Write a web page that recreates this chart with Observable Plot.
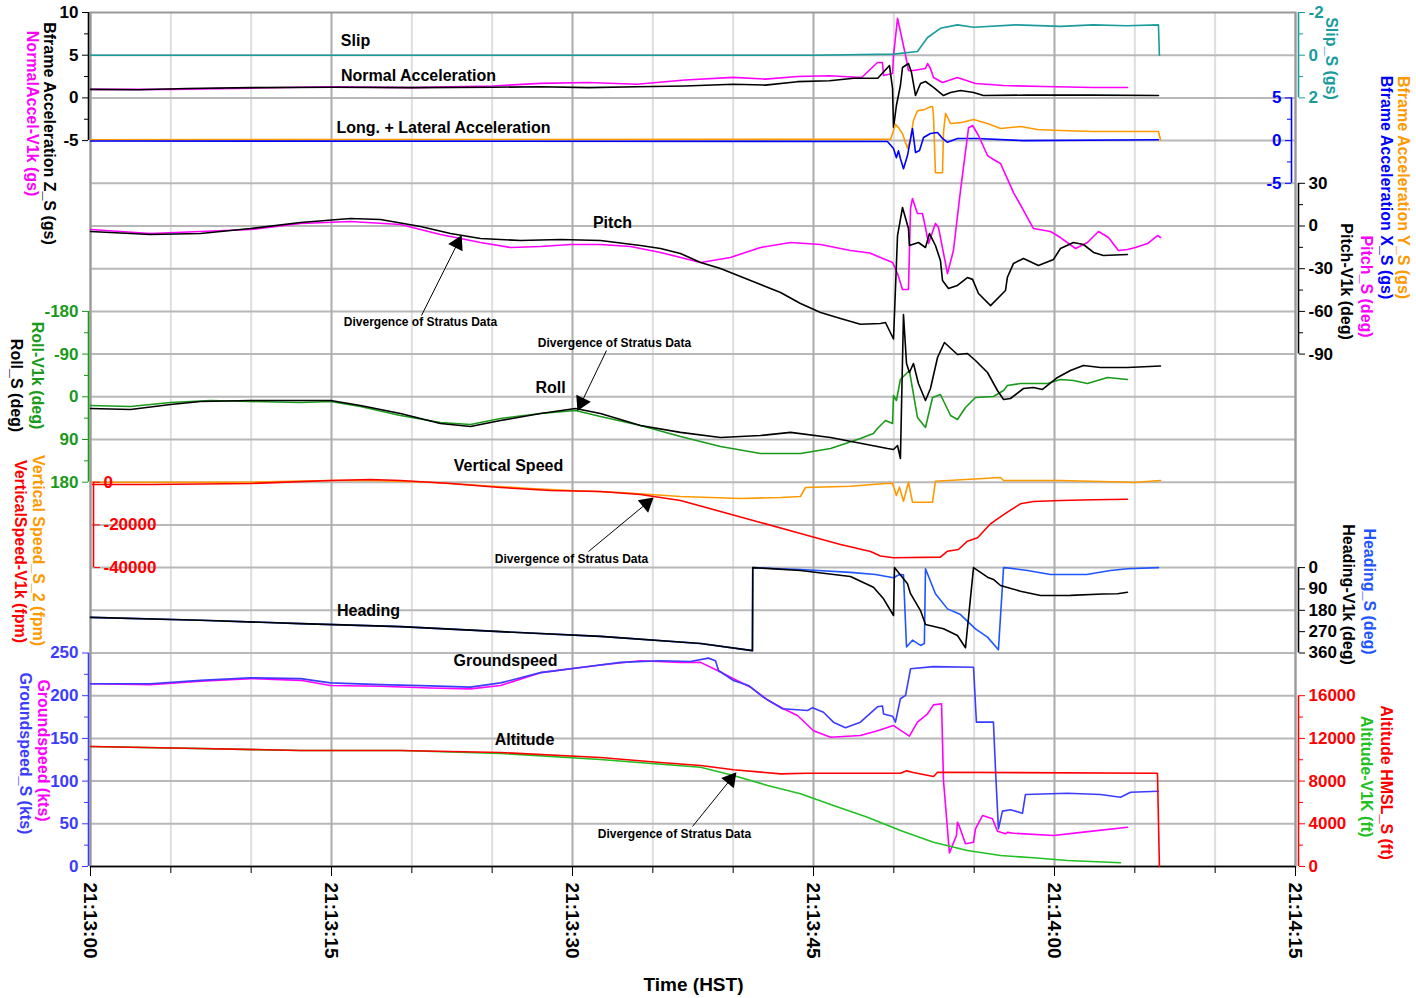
<!DOCTYPE html>
<html><head><meta charset="utf-8">
<script src="https://cdn.jsdelivr.net/npm/d3@7"></script>
<script src="https://cdn.jsdelivr.net/npm/@observablehq/plot@0.6"></script>
<style>
body{margin:0;background:#fff;}
#chart{position:relative;width:1416px;height:998px;}
#chart svg{position:absolute;left:0;top:0;overflow:visible;}
</style></head><body><div id="chart"></div>
<script>
// ---------- x axis ----------
const xMajor = [0, 15, 30, 45, 60, 75];
const xMajorLabels = ["21:13:00", "21:13:15", "21:13:30", "21:13:45", "21:14:00", "21:14:15"];
const xMinor = [5, 10, 20, 25, 35, 40, 50, 55, 65, 70];
const gridRows = d3.range(1, 20);

// ---------- series: [seconds after 21:13:00, value] ----------
const slipS = [[0,0],[20,0],[45,0],[49.98,-0.05],[51.47,-0.17],[52.1,-0.83],[52.9,-1.26],[53.96,-1.42],[54.96,-1.31],[57.6,-1.42],[60.4,-1.35],[62.4,-1.42],[64.5,-1.38],[66.47,-1.42],[66.53,0]];
const accelZS = [[0,1.0],[3,0.95],[6,1.1],[10,1.2],[15,1.25],[20,1.2],[25,1.25],[28,1.3],[31,1.2],[34,1.3],[37,1.4],[40,1.6],[42,1.5],[44,1.9],[46,2.0],[47.5,2.3],[49,2.3],[49.73,3.79],[49.92,1.1],[49.98,-3.47],[50.16,-0.89],[50.41,1.45],[50.54,3.56],[50.91,4.03],[51.1,2.97],[51.35,0.28],[51.66,1.69],[51.97,1.92],[52.47,1.22],[53.09,0.28],[53.53,0.63],[54.15,0.87],[54.96,0.63],[55.58,0.28],[58.3,0.33],[62.4,0.33],[66.47,0.28]];
const normalAccelV1k = [[0,1.0],[5,1.0],[10,1.15],[15,1.3],[20,1.2],[25,1.4],[28,1.7],[31,1.8],[34,1.6],[37,2.1],[40,2.4],[42,2.2],[44,2.5],[46,2.6],[48,2.39],[48.98,4.15],[49.29,4.15],[49.36,2.62],[49.92,2.86],[49.98,4.96],[50.23,9.33],[50.73,4.96],[50.91,3.21],[51.22,3.21],[51.97,3.44],[52.1,4.03],[52.28,3.44],[52.47,2.39],[53.03,1.8],[53.96,2.39],[55.08,1.69],[56.83,1.45],[59.31,1.33],[62.43,1.22],[64.54,1.22]];
const accelYS = [[0,0.1],[49.8,0.15],[50.1,1.9],[50.29,1.52],[50.54,0.8],[50.85,-0.9],[51.04,0.25],[51.22,2.35],[51.47,3.5],[51.85,3.6],[52.28,3.97],[52.41,3.97],[52.47,2.9],[52.59,-3.76],[53.03,-3.76],[53.09,0.95],[53.22,3.2],[53.53,2.0],[54.15,2.1],[54.96,2.47],[55.83,2.0],[56.64,1.42],[57.88,1.65],[58.94,1.3],[60.37,1.18],[62.4,1.07],[66.47,1.07],[66.6,0.1]];
const accelXS = [[0,-0.05],[49.6,-0.1],[49.98,-0.93],[50.16,-2.0],[50.29,-1.2],[50.41,-2.1],[50.6,-3.3],[50.85,-1.75],[51.16,1.42],[51.35,-1.4],[51.6,-1.16],[51.85,0.36],[52.28,0.83],[52.72,0.95],[53.03,0.25],[53.34,-0.2],[53.96,0.25],[55.21,0.25],[58,0],[66.47,0.1]];
const pitchV1k = [[0,-3.9],[3.73,-6.0],[6.85,-5.3],[9.96,-1.8],[13.07,2.5],[16.18,5.3],[18.05,4.6],[20.54,-0.4],[22.41,-5.3],[24.27,-8.8],[26.76,-10.2],[29.25,-9.5],[31.74,-10.2],[34.23,-13.7],[35.48,-15.8],[36.72,-19.3],[37.97,-25.6],[39.21,-29.9],[41.08,-38.3],[42.95,-46.7],[44.19,-54.5],[45.44,-60.8],[46.68,-65],[47.92,-69],[49.17,-68.5],[49.48,-67.8],[49.98,-79.4],[50.23,-6.7],[50.54,13],[50.91,-1.8],[50.97,-13.7],[51.53,-11.6],[51.97,-15.1],[52.22,-5.3],[52.59,-13.7],[52.9,-24.2],[53.03,-38.3],[53.4,-43.9],[53.96,-41.8],[54.58,-36.2],[54.9,-37.5],[55.27,-47.4],[56.02,-55.9],[56.95,-45.3],[57.07,-36],[57.45,-26.3],[58.07,-22.8],[59.0,-27.8],[59.94,-23.5],[60.37,-15.8],[61.18,-11.6],[61.8,-13],[62.43,-18.6],[63.05,-20.7],[64.54,-20]];
const pitchS = [[0,-2.5],[3.73,-5.3],[9.96,-2.5],[13.07,1.8],[16.18,3.2],[19.29,1.1],[21.78,-6],[24.27,-11.6],[26.14,-15.1],[28.01,-14.4],[29.88,-13],[31.74,-13],[33.61,-14.4],[35.48,-18.6],[37.97,-25.6],[39.83,-22.1],[41.7,-15.1],[43.57,-11.6],[45.44,-13],[47.3,-17.2],[48.5,-19],[49.92,-25.6],[50.23,-33.4],[50.54,-44.6],[50.91,-44.6],[51.04,12.3],[51.16,19.3],[51.47,8.8],[51.78,8.8],[51.97,-1.1],[52.16,-12.3],[52.59,1.8],[52.78,-1.1],[53.34,-33.4],[53.71,-17.2],[54.15,25],[54.65,69],[54.9,70.6],[55.27,63.6],[55.83,49.5],[56.2,46.7],[56.64,43.9],[57.45,23.5],[58.07,10.9],[58.69,-1.8],[59.75,-3.9],[60.37,-8.1],[61.31,-15.8],[62.05,-11.6],[62.74,-3.9],[63.36,-8.1],[63.98,-17.2],[64.54,-16.5],[65.04,-15.1],[65.79,-12.3],[66.41,-6.7],[66.6,-8.1]];
const rollS = [[0,24.7],[2.49,26.8],[4.98,16.2],[6.85,9.9],[9.96,7.8],[13.07,7.8],[14.94,7.8],[16.8,18.3],[19.29,35.2],[21.78,56.3],[23.65,62.6],[25.52,50],[28.01,35.2],[30.19,24.7],[31.74,35.2],[34.23,60.5],[36.72,75],[39.21,85.8],[41.7,81.6],[43.57,75],[46.06,85.8],[47.92,97.8],[49.61,109],[49.98,111],[50.23,102.7],[50.41,130],[50.6,-173.5],[50.79,-70.2],[50.97,-51.2],[51.22,-70.2],[51.53,-28],[51.97,7.8],[52.28,-17.5],[52.72,-82.8],[53.15,-114.5],[53.96,-89.2],[54.58,-91.3],[55.08,-76.5],[55.83,-51.2],[56.45,-13.3],[56.83,5.7],[57.26,3.6],[58.07,-17.5],[58.69,-19.6],[59.25,-15.4],[60.19,-40.7],[60.99,-55.5],[61.8,-66],[62.86,-61.8],[64.54,-61.8],[66.6,-65]];
const rollV1k = [[0,18.3],[2.49,20.4],[4.98,12],[7.47,7.8],[9.96,9.9],[13.07,12],[14.94,9.9],[16.8,20.4],[19.29,39.4],[21.78,54.2],[23.65,58.4],[25.52,45.7],[28.01,35.2],[30.19,28.9],[31.74,41.5],[34.23,60.5],[36.72,83.7],[39.21,104.8],[41.7,119.5],[44.19,119.5],[46.06,109],[47.92,87.9],[48.73,77.4],[48.98,66.8],[49.48,49.9],[49.92,56.3],[49.98,-2.7],[50.16,7.8],[50.41,-36.5],[50.97,-55.4],[51.47,43.6],[51.97,64.7],[52.41,1.5],[52.9,-4.8],[53.53,39.4],[53.96,47.9],[54.46,22.6],[55.08,1.5],[56.2,-0.6],[56.83,-13.3],[57.07,-23.8],[57.88,-28],[59.56,-28],[60.37,-36.5],[61.18,-34.4],[62.05,-28],[63.3,-40.7],[64.54,-36.5]];
const vsV1k = [[0.12,-1080],[3.73,-1080],[9.96,-600],[14.94,800],[17.43,1260],[19.29,800],[22.41,-600],[25.52,-2480],[28.63,-3900],[31.74,-4360],[34.23,-5760],[36.72,-8570],[39.21,-13720],[41.7,-18880],[44.19,-24030],[46.68,-29180],[48.55,-32460],[49.17,-34530],[49.98,-35400],[52.9,-35100],[53.34,-32320],[54.02,-31520],[54.58,-27640],[55.21,-26050],[56.02,-19490],[56.45,-17150],[57.07,-14050],[57.88,-10120],[58.69,-9040],[60.37,-8570],[62.43,-8240],[64.54,-7960]];
const vsS2 = [[0.12,0],[9.96,0],[14.94,800],[17.43,800],[21.16,0],[24.27,-1550],[27.39,-2950],[29.88,-3890],[32.99,-4800],[36.72,-6700],[40.46,-7630],[42.95,-7170],[44.19,-6700],[44.5,-2480],[47.3,-1870],[49.48,-600],[49.92,-500],[50.16,-6230],[50.35,-2330],[50.6,-8900],[50.91,0],[51.16,-9370],[52.41,-9370],[52.59,470],[56.64,2200],[56.83,800],[60.37,800],[64.73,0],[64.92,-140],[66.6,800]];
const headingV1k = [[0,210],[6.85,222],[13.07,236],[19.29,249],[25.52,270],[31.74,290],[37.97,320],[41.2,350],[41.22,0],[44.19,12],[47.3,37.5],[48.73,82.6],[49.36,131.5],[49.98,202],[50.04,0],[50.85,68],[51.04,110],[51.66,181],[51.97,240],[53.09,258],[53.96,286],[54.46,338],[54.96,0],[55.83,40.5],[56.2,50],[56.64,75.5],[57.88,99.5],[59.13,117.6],[61,117],[63,111],[63.92,110],[64.54,103.7]];
const headingS = [[0,210],[6.85,222],[13.07,236],[19.29,249],[25.52,270],[31.74,290],[37.97,320],[41.2,350],[41.22,0],[44.19,8],[47.3,20],[48.86,29],[49.98,43],[50.35,29],[50.6,30],[50.79,335],[51.16,306],[51.66,328],[51.9,320],[51.97,5],[52.59,110],[53.34,174],[54.15,198],[55.08,258],[55.83,293],[56.51,346.5],[56.83,0],[57.07,1],[58.32,12],[59.75,29],[62,29],[63.48,12],[64.54,5],[66.47,0]];
const groundspeedS = [[0,214],[3.73,214],[6.85,218],[9.96,221],[13.07,220],[14.94,215],[18.05,213],[21.16,211.5],[23.65,210],[25.52,215],[28.01,227],[30.5,233],[32.99,239],[35.48,241],[37.34,240],[38.46,244],[38.9,241],[39.09,229.5],[40.02,217.8],[40.95,212],[41.89,198],[43.07,184.7],[44.63,182.7],[44.94,186],[45.62,180.6],[46.24,169],[46.99,162.4],[47.92,169],[48.98,187],[49.29,188],[49.36,178.6],[49.92,176],[50.1,169],[50.41,196.4],[50.73,200.3],[51.04,231.5],[52.47,234],[54.96,233.4],[55.14,169],[56.2,169],[56.33,112.4],[56.51,44],[56.76,64.8],[57.26,66.4],[58.01,62.4],[58.19,84.3],[60.81,85.8],[62.86,84.3],[64.11,81],[64.73,87],[66.47,88.2]];
const groundspeedV1k = [[0,214],[3.73,213],[6.85,217],[9.96,220],[13.07,218],[14.94,212],[18.05,211],[21.16,209],[23.65,208],[25.52,212],[28.01,227],[31.74,236],[34.23,241],[36.72,239],[37.97,239],[39.02,229.5],[40.02,219.8],[41.08,210],[42.14,195],[43.13,184.7],[44.0,176.8],[45.0,159],[46.06,151.4],[47.92,153.4],[48.98,159],[49.98,165],[50.97,152.6],[51.47,169],[52.1,178.8],[52.47,189.3],[52.97,190.5],[53.09,100.7],[53.46,16],[53.9,36.3],[53.96,51.9],[54.02,50],[54.46,26.6],[54.96,28.5],[55.08,44],[55.52,59.7],[56.14,55.9],[56.45,41.3],[56.95,38.3],[57.07,40],[57.45,38.9],[59.94,36.3],[61.8,40.2],[64.54,46]];
const altitudeS = [[0,11240],[6.85,11050],[13.07,10870],[19.29,10870],[25.52,10680],[31.74,10210],[35.48,9740],[37.97,9460],[40.02,9060],[42.95,8680],[44.63,8740],[50.41,8740],[50.8,8960],[51.2,8800],[52.47,8430],[52.72,8830],[66.41,8740],[66.53,0]];
const altitudeV1k = [[0,11240],[13.07,10870],[19.29,10870],[25.52,10590],[31.74,10020],[37.97,9300],[40.02,8530],[42.14,7590],[44.19,6810],[46.24,5710],[48.36,4620],[50.41,3370],[52.47,2280],[54.58,1500],[56.64,1030],[58.69,815],[60.81,560],[64.11,350]];

// ---------- text ----------
const panelTitles = ["Slip", "Normal Acceleration", "Long. + Lateral Acceleration", "Pitch", "Roll", "Vertical Speed", "Heading", "Groundspeed", "Altitude"];
const noteText = "Divergence of Stratus Data";

// ---------- layout & style ----------
const W = 1416, H = 998, XL = 90, XR = 1295;
const FONT = "'Liberation Sans', Arial, Helvetica, sans-serif";
const COL = {teal: "#1a9c9c", magenta: "#ff00ff", orange: "#ff9900", blue: "#0000ff", green: "#1a9a1a",
  red: "#ff0000", hblue: "#1f55ff", gblue: "#3c3cff", agreen: "#22c022", black: "#000"};
const chart = document.getElementById("chart");
const baseStyle = {fontFamily: FONT, fontWeight: "bold", fontSize: "17px", background: "transparent", overflow: "visible"};
const fmt = d => String(d);

function layer({domain, top, bottom, anchor, at, color, ticks, minor, lines}) {
  const svg = Plot.plot({
    width: W, height: H,
    marginTop: top, marginBottom: H - bottom,
    marginLeft: anchor === "left" ? at : 0,
    marginRight: anchor === "right" ? W - at : 0,
    x: {domain: [0, 75], range: [XL, XR], axis: null},
    y: {domain},
    style: baseStyle,
    marks: [
      ...lines.map(([data, stroke]) => Plot.line(data, {stroke, strokeWidth: 1.6})),
      Plot.ruleX([{t: 0, a: domain[0], b: domain[1]}], {x: "t", y1: "a", y2: "b", dx: at - XL, stroke: color, strokeWidth: 1.6}),
      Plot.axisY({anchor, ticks: minor, tickSize: 4, tickFormat: () => "", color, label: null}),
      Plot.axisY({anchor, ticks, tickSize: 6, tickPadding: 4, tickFormat: fmt, color, label: null})
    ]
  });
  chart.appendChild(svg);
}

// base: grid, frame, time axis
chart.appendChild(Plot.plot({
  width: W, height: H, marginTop: 12, marginBottom: H - 866, marginLeft: XL, marginRight: W - XR,
  x: {domain: [0, 75]},
  y: {domain: [0, 20], axis: null},
  style: baseStyle,
  marks: [
    Plot.ruleX(xMinor, {stroke: "#dedede", strokeWidth: 2}),
    Plot.ruleY(gridRows, {stroke: "#b8b8b8", strokeWidth: 2}),
    Plot.ruleX(xMajor, {stroke: "#ababab", strokeWidth: 2}),
    Plot.frame({stroke: "#9a9a9a", strokeWidth: 2}),
    Plot.ruleY([0], {stroke: "#000", strokeWidth: 1.5}),
    Plot.axisX({ticks: xMinor, tickSize: 7, tickFormat: () => "", label: null}),
    Plot.axisX({ticks: xMajor, tickSize: 10, tickRotate: 90, tickPadding: 6, fontSize: 19,
      tickFormat: d => xMajorLabels[xMajor.indexOf(d)], label: null})
  ]
}));

layer({domain: [-5, 10], top: 12, bottom: 140.1, anchor: "left", at: 88, color: COL.black,
  ticks: [-5, 0, 5, 10], minor: [-2.5, 2.5, 7.5], lines: [[normalAccelV1k, COL.magenta], [accelZS, COL.black]]});
layer({domain: [2, -2], top: 12, bottom: 97.4, anchor: "right", at: 1298, color: COL.teal,
  ticks: [-2, 0, 2], minor: [-1, 1], lines: [[slipS, COL.teal]]});
layer({domain: [-5, 5], top: 97.4, bottom: 182.8, anchor: "left", at: 1291, color: COL.blue,
  ticks: [-5, 0, 5], minor: [-2.5, 2.5], lines: [[accelYS, COL.orange], [accelXS, COL.blue]]});
layer({domain: [-90, 30], top: 182.8, bottom: 353.6, anchor: "right", at: 1298, color: COL.black,
  ticks: [-90, -60, -30, 0, 30], minor: [-75, -45, -15, 15], lines: [[pitchS, COL.magenta], [pitchV1k, COL.black]]});
layer({domain: [180, -180], top: 310.9, bottom: 481.7, anchor: "left", at: 88, color: COL.green,
  ticks: [-180, -90, 0, 90, 180], minor: [-135, -45, 45, 135], lines: [[rollV1k, COL.green], [rollS, COL.black]]});
layer({domain: [-40000, 0], top: 481.7, bottom: 567.1, anchor: "right", at: 93, color: COL.red,
  ticks: [-40000, -20000, 0], minor: [], lines: [[vsS2, COL.orange], [vsV1k, COL.red]]});
layer({domain: [360, 0], top: 567.1, bottom: 652.5, anchor: "right", at: 1298, color: COL.black,
  ticks: [0, 90, 180, 270, 360], minor: [], lines: [[headingS, COL.hblue], [headingV1k, COL.black]]});
layer({domain: [0, 250], top: 652.5, bottom: 866, anchor: "left", at: 88, color: COL.gblue,
  ticks: [0, 50, 100, 150, 200, 250], minor: [25, 75, 125, 175, 225], lines: [[groundspeedV1k, COL.magenta], [groundspeedS, COL.gblue]]});
layer({domain: [0, 16000], top: 695.2, bottom: 866, anchor: "right", at: 1298, color: COL.red,
  ticks: [0, 4000, 8000, 12000, 16000], minor: [2000, 6000, 10000, 14000], lines: [[altitudeV1k, COL.agreen], [altitudeS, COL.red]]});

// annotations & axis titles (pixel positions)
const titlePos = [[355, 40], [418, 75], [443, 127], [612, 222], [550, 387], [508, 465], [368, 610], [505, 660], [524, 739]];
const titles = panelTitles.map((text, i) => ({text, x: titlePos[i][0], y: titlePos[i][1]}));
const notes = [[420, 322], [614, 343], [571, 559], [674, 834]].map(([x, y]) => ({text: noteText, x, y}));
const arrows = [
  {x1: 421, y1: 315, x2: 457, y2: 243, a: 27},
  {x1: 606, y1: 350, x2: 581, y2: 402, a: -154},
  {x1: 588, y1: 551, x2: 646, y2: 503, a: 50},
  {x1: 692, y1: 826, x2: 730, y2: 779, a: 39}
];
const axisTitles = [
  ["Bframe Acceleration Z_S (gs)", 49, 133, COL.black], ["NormalAccel-V1k (gs)", 32, 113, COL.magenta],
  ["Roll-V1k (deg)", 37, 375, COL.green], ["Roll_S (deg)", 16, 385, COL.black],
  ["Vertical Speed_S_2 (fpm)", 38, 550, COL.orange], ["VerticalSpeed-V1k (fpm)", 20, 551, COL.red],
  ["Groundspeed (kts)", 43, 750, COL.magenta], ["Groundspeed_S (kts)", 25, 753, COL.gblue],
  ["Slip_S (gs)", 1331, 58, COL.teal],
  ["Bframe Acceleration Y_S (gs)", 1403, 187, COL.orange], ["Bframe Acceleration X_S (gs)", 1386, 187, COL.blue],
  ["Pitch_S (deg)", 1366, 286, COL.magenta], ["Pitch-V1k (deg)", 1346, 281, COL.black],
  ["Heading_S (deg)", 1369, 591, COL.hblue], ["Heading-V1k (deg)", 1348, 594, COL.black],
  ["Altitude HMSL_S (ft)", 1386, 782, COL.red], ["Altitude-V1K (ft)", 1366, 776, COL.agreen]
].map(([text, x, y, c]) => ({text, x, y, c}));

chart.appendChild(Plot.plot({
  width: W, height: H, margin: 0,
  x: {type: "identity", axis: null}, y: {type: "identity", axis: null}, color: {type: "identity"},
  style: baseStyle,
  marks: [
    Plot.text(titles, {x: "x", y: "y", text: "text", fontSize: 16, fill: "#000"}),
    Plot.text(notes, {x: "x", y: "y", text: "text", fontSize: 12, fill: "#000"}),
    Plot.link(arrows, {x1: "x1", y1: "y1", x2: "x2", y2: "y2", stroke: "#000", strokeWidth: 1}),
    Plot.dot(arrows, {x: "x2", y: "y2", symbol: "triangle", r: 6, fill: "#000", stroke: null, rotate: "a"}),
    Plot.text(axisTitles, {x: "x", y: "y", text: "text", fill: "c", rotate: 90, fontSize: 16}),
    Plot.text(["Time (HST)"], {x: 693, y: 984, text: d => d, fontSize: 19, fill: "#000"})
  ]
}));
</script></body></html>
